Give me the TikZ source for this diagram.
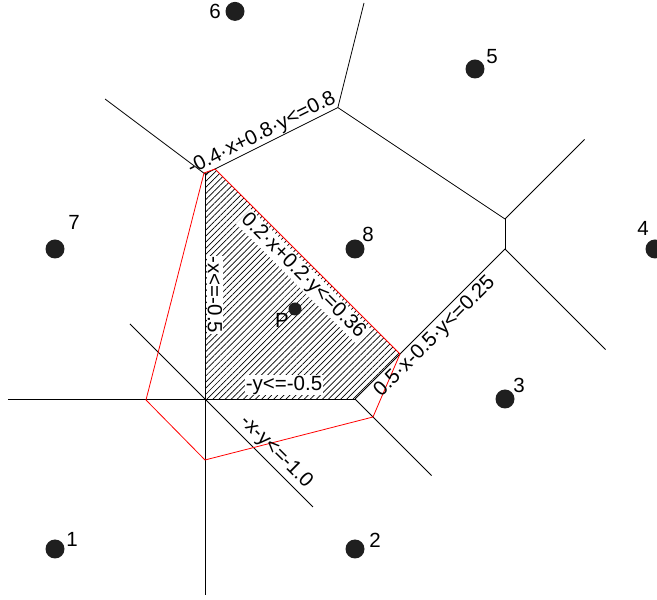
\documentclass[tikz,border=0pt]{standalone}
\usepackage{fontspec}
\setmainfont{Liberation Sans}
\usetikzlibrary{patterns.meta}
\begin{document}
\begin{tikzpicture}[x=300pt,y=300pt,
  vor/.style={black, line width=0.8pt},
  redpoly/.style={red, line width=0.8pt},
  site/.style={circle, fill=black!88, inner sep=0pt, minimum size=19pt},
  psite/.style={circle, fill=black!88, inner sep=0pt, minimum size=13pt},
  lab/.style={font=\fontsize{20.5}{24}\selectfont, inner sep=0.5pt},
  elab/.style={lab, fill=white, inner sep=1pt},
  hatch/.style={pattern={Lines[angle=45,distance=4.3pt,line width=0.7pt]}}
]
\useasboundingbox (-0.18333,-0.17) rectangle (2.00667,1.83);

% Voronoi vertices and line ends
\coordinate (O) at (0.5,0.5);
\coordinate (B) at (1,0.5);
\coordinate (C) at (1.5,1.0);
\coordinate (D) at (1.5,1.1);
\coordinate (V) at (0.94286,1.47143);
\coordinate (W) at (0.5,1.25);
\coordinate (H1) at (1.15,0.65);
\coordinate (H2) at (0.53333,1.26667);
\coordinate (eBottom) at (0.5,-0.153);
\coordinate (eLeft) at (-0.157,0.5);
\coordinate (eDiagA) at (0.25,0.75);
\coordinate (eDiagB) at (0.86,0.14);
\coordinate (e23) at (1.255,0.245);
\coordinate (e34) at (1.835,0.665);
\coordinate (e45) at (1.765,1.365);
\coordinate (e56) at (1.03,1.82);
\coordinate (e67) at (0.1667,1.5);

% hatched feasible region
\fill[hatch] (O) -- (B) -- (H1) -- (H2) -- (W) -- cycle;

% Voronoi edges
\draw[vor] (W) -- (eBottom);
\draw[vor] (eLeft) -- (B);
\draw[vor] (eDiagA) -- (eDiagB);
\draw[vor] (B) -- (e23);
\draw[vor] (B) -- (C);
\draw[vor] (C) -- (D);
\draw[vor] (C) -- (e34);
\draw[vor] (D) -- (e45);
\draw[vor] (D) -- (V);
\draw[vor] (V) -- (e56);
\draw[vor] (V) -- (W);
\draw[vor] (W) -- (e67);

% red polygon
\coordinate (R1) at (0.3033,0.4967);
\coordinate (R2) at (0.4967,1.2533);
\coordinate (R5) at (1.06,0.44);
\coordinate (R6) at (0.5,0.2967);
\draw[redpoly] (R1) -- (R2) -- (H2) -- (H1) -- (R5) -- (R6) -- cycle;

% constraint labels
\node[lab, rotate=26.57] (l68) at (0.69,1.3833) {-0.4·x+0.8·y<=0.8};
\node[elab, rotate=-45] (l8P) at (0.8267,0.91) {0.2·x+0.2·y<=0.36};
\node[elab, rotate=-90] (l78) at (0.5333,0.8467) {-x<=-0.5};
\node[elab] (l28) at (0.7633,0.5467) {-y<=-0.5};
\node[lab, rotate=45] (l38) at (1.2667,0.7067) {0.5·x-0.5·y<=0.25};
\node[lab, rotate=-45] (l18) at (0.7367,0.3233) {-x-y<=-1.0};

% sites
\node[site] (s1) at (0,0) {};
\node[site] (s2) at (1,0) {};
\node[site] (s3) at (1.5,0.5) {};
\node[site] (s4) at (2,1) {};
\node[site] (s5) at (1.4,1.6) {};
\node[site] (s6) at (0.6,1.792) {};
\node[site] (s7) at (0,1) {};
\node[site] (s8) at (1,1) {};
\node[psite] (sP) at (0.8,0.8) {};

\node[lab] (t1) at (0.0567,0.0333) {1};
\node[lab] (t2) at (1.0667,0.03) {2};
\node[lab] (t3) at (1.5467,0.5467) {3};
\node[lab] (t4) at (1.96,1.07) {4};
\node[lab] (t5) at (1.4567,1.64) {5};
\node[lab] (t6) at (0.5333,1.7933) {6};
\node[lab] (t7) at (0.0633,1.09) {7};
\node[lab] (t8) at (1.0433,1.05) {8};
\node[lab] (tP) at (0.7567,0.7633) {P};
\end{tikzpicture}
\end{document}
